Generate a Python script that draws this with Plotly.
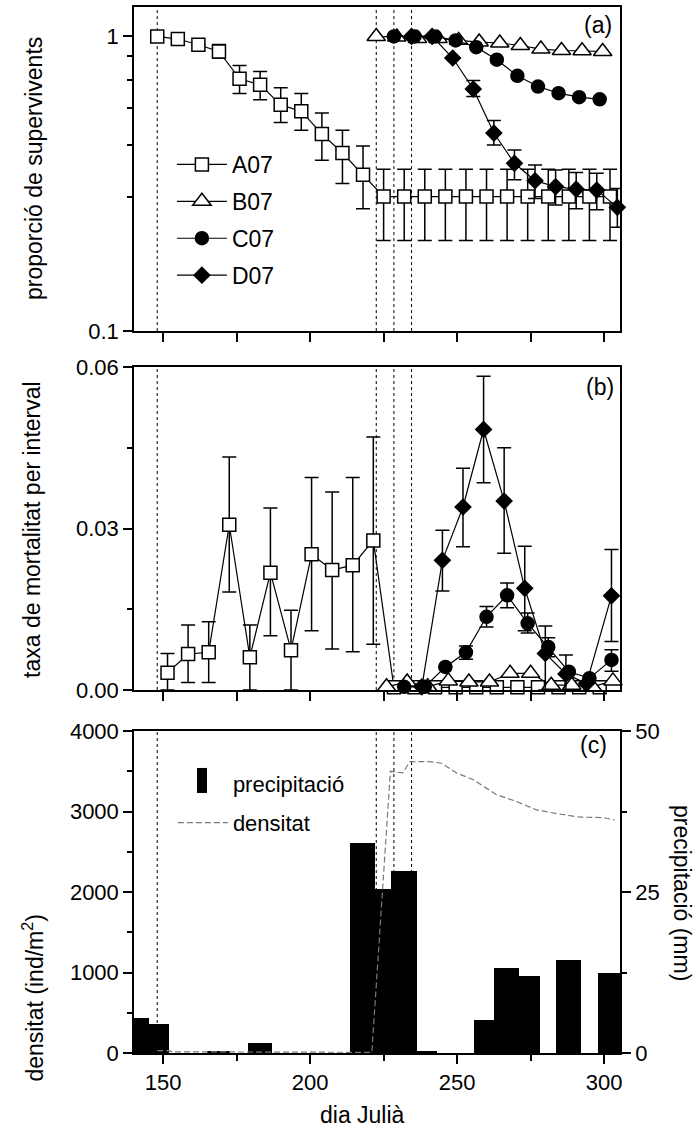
import plotly.graph_objects as go

# ---------------- data ----------------
event_days = [148, 222.5, 228.5, 234.5]

# (a) proportion of survivors
a07_day = [148, 155, 162, 169, 176, 183, 190, 197, 204, 211, 218, 225, 232, 239, 246, 253,
           260, 267, 274, 281, 288, 295, 302]
a07_surv = [1.0, 0.98, 0.937, 0.889, 0.718, 0.685, 0.586, 0.557, 0.467, 0.402, 0.339,
            0.286, 0.286, 0.286, 0.286, 0.286, 0.286, 0.286, 0.286, 0.286, 0.286, 0.286, 0.286]
a07_hi = [None, None, None, 0.94, 0.797, 0.76, 0.67, 0.64, 0.55, 0.48, 0.425,
          0.354, 0.354, 0.354, 0.354, 0.354, 0.354, 0.354, 0.354, 0.354, 0.354, 0.354, 0.354]
a07_lo = [None, None, None, 0.845, 0.64, 0.61, 0.51, 0.48, 0.38, 0.317, 0.26,
          0.203, 0.203, 0.203, 0.203, 0.203, 0.203, 0.203, 0.203, 0.203, 0.203, 0.203, 0.203]

b07_day = [222.5, 229.5, 236.5, 243.5, 250.5, 257.5, 264.5, 271.5, 278.5, 285.5, 292.5, 299.5]
b07_surv = [1.0, 0.995, 0.985, 0.985, 0.97, 0.957, 0.95, 0.932, 0.906, 0.896, 0.894, 0.889]

c07_day = [228.5, 235.5, 242.5, 249.5, 256.5, 263.5, 270.5, 277.5, 284.5, 291.5, 298.5]
c07_surv = [1.0, 1.0, 1.0, 0.969, 0.92, 0.834, 0.735, 0.676, 0.642, 0.622, 0.612]

d07_day = [234.5, 241.5, 248.5, 255.5, 262.5, 269.5, 276.5, 283.5, 290.5, 297.5, 304.5]
d07_surv = [1.0, 1.0, 0.845, 0.663, 0.47, 0.371, 0.324, 0.309, 0.303, 0.301, 0.263]
d07_hi = [None, None, None, 0.709, 0.518, 0.412, 0.366, 0.352, 0.345, 0.343, 0.305]
d07_lo = [None, None, None, 0.625, 0.428, 0.326, 0.282, 0.268, 0.26, 0.258, 0.225]

# (b) mortality rate per interval
a07_m_day = [151.5, 158.5, 165.5, 172.5, 179.5, 186.5, 193.5, 200.5, 207.5, 214.5, 221.5,
             228.5, 235.5, 242.5, 249.5, 256.5, 263.5, 270.5, 277.5, 284.5, 291.5, 298.5]
a07_m = [0.0032, 0.0067, 0.0070, 0.0307, 0.0061, 0.0218, 0.0074, 0.0252, 0.0223, 0.0232, 0.0278,
         0.0005, 0.0005, 0.0005, 0.0005, 0.0005, 0.0005, 0.0005, 0.0005, 0.0005, 0.0005, 0.0005]
a07_m_hi = [0.0068, 0.0121, 0.0127, 0.0433, 0.0121, 0.0338, 0.0148, 0.0395, 0.0368, 0.0395, 0.047,
            None, None, None, None, None, None, None, None, None, None, None]
a07_m_lo = [0.0, 0.0014, 0.0014, 0.0182, 0.0, 0.0101, 0.0, 0.011, 0.0076, 0.0071, 0.0085,
            None, None, None, None, None, None, None, None, None, None, None]

b07_m_day = [226, 233, 240, 247, 254, 261, 268, 275, 282, 289, 296, 303]
b07_m = [0.0006, 0.0015, 0.0006, 0.0017, 0.0015, 0.0015, 0.0031, 0.0031, 0.0009, 0.0009, 0.0006, 0.0017]

c07_m_day = [232, 239, 246, 253, 260, 267, 274, 281, 288, 295, 302.5]
c07_m = [0.0006, 0.0006, 0.0043, 0.007, 0.0136, 0.0176, 0.0124, 0.008, 0.0034, 0.0022, 0.0056]
c07_m_hi = [None, None, None, 0.0082, 0.0155, 0.0199, 0.0143, 0.0097, None, None, 0.0075]
c07_m_lo = [None, None, None, 0.0057, 0.0117, 0.0153, 0.0106, 0.0062, None, None, 0.0035]

d07_m_day = [238, 245, 252, 259, 266, 273, 280, 287, 294, 302.5]
d07_m = [0.0006, 0.0241, 0.034, 0.0484, 0.0351, 0.0189, 0.0068, 0.0030, 0.0012, 0.0175]
d07_m_hi = [None, 0.0297, 0.0412, 0.0583, 0.045, 0.0267, 0.0119, 0.0065, None, 0.0261]
d07_m_lo = [None, 0.0184, 0.0266, 0.0385, 0.0254, 0.011, 0.0, 0.0, None, 0.009]

# (c) precipitation (mm) per sampling interval, density (ind/m2)
precip_from = [138.0, 145.2, 164.8, 178.8, 213.6, 222.0, 227.6, 236.2, 255.8, 262.7, 271.2, 283.8, 297.8]
precip_to = [145.2, 152.0, 172.7, 187.2, 222.0, 227.6, 236.2, 243.0, 262.7, 271.2, 278.3, 292.3, 306.0]
precip_mm = [5.5, 4.5, 0.2, 1.55, 32.6, 25.4, 28.3, 0.15, 5.06, 13.2, 12.0, 14.5, 12.4]

dens_day = [148, 152, 153, 190, 195, 221, 227.3, 231.6, 233.9, 240.7, 244.7, 249.8, 255.5,
            263.4, 270.2, 277, 283.8, 291.8, 299.7, 303.6]
dens_val = [30, 30, 15, 12, 8, 8, 3500, 3480, 3620, 3620, 3600, 3480, 3395,
            3210, 3125, 3020, 2975, 2930, 2925, 2895]

# ---------------- helpers ----------------
def err(vals, hi, lo):
    plus = [None if h is None else h - v for v, h in zip(vals, hi)]
    minus = [None if l is None else v - l for v, l in zip(vals, lo)]
    return plus, minus

FONT = "Liberation Sans, Arial, sans-serif"
FS = 22
FT = 23
LINE = dict(color="black", width=1.2)
EB = dict(type="data", symmetric=False, color="black", thickness=1.5, width=7)

def mk(symbol, fill, size):
    return dict(symbol=symbol, size=size, color=fill, line=dict(color="black", width=1.5))

SQ = mk("square", "white", 13)
TR = mk("triangle-up", "white", 16)
CI = mk("circle", "black", 13)
DI = mk("diamond", "black", 12)

fig = go.Figure()

# ---- panel (a)
p, m = err(a07_surv, a07_hi, a07_lo)
fig.add_trace(go.Scatter(x=a07_day, y=a07_surv, mode="lines+markers", name="A07", line=LINE, marker=SQ,
                         error_y=dict(EB, array=p, arrayminus=m), xaxis="x", yaxis="y",
                         legend="legend", legendgroup="a", cliponaxis=False))
fig.add_trace(go.Scatter(x=b07_day, y=b07_surv, mode="lines+markers", name="B07", line=LINE, marker=TR,
                         xaxis="x", yaxis="y", legend="legend", legendgroup="b", cliponaxis=False))
fig.add_trace(go.Scatter(x=c07_day, y=c07_surv, mode="lines+markers", name="C07", line=LINE, marker=CI,
                         xaxis="x", yaxis="y", legend="legend", legendgroup="c", cliponaxis=False))
p, m = err(d07_surv, d07_hi, d07_lo)
fig.add_trace(go.Scatter(x=d07_day, y=d07_surv, mode="lines+markers", name="D07", line=LINE, marker=DI,
                         error_y=dict(EB, array=p, arrayminus=m), xaxis="x", yaxis="y",
                         legend="legend", legendgroup="d", cliponaxis=False))

# ---- panel (b)
p, m = err(a07_m, a07_m_hi, a07_m_lo)
fig.add_trace(go.Scatter(x=a07_m_day, y=a07_m, mode="lines+markers", line=LINE, marker=SQ, showlegend=False,
                         error_y=dict(EB, array=p, arrayminus=m), xaxis="x2", yaxis="y2", cliponaxis=False))
fig.add_trace(go.Scatter(x=b07_m_day, y=b07_m, mode="lines+markers", line=LINE, marker=TR, showlegend=False,
                         xaxis="x2", yaxis="y2", cliponaxis=False))
p, m = err(c07_m, c07_m_hi, c07_m_lo)
fig.add_trace(go.Scatter(x=c07_m_day, y=c07_m, mode="lines+markers", line=LINE, marker=CI, showlegend=False,
                         error_y=dict(EB, array=p, arrayminus=m), xaxis="x2", yaxis="y2", cliponaxis=False))
p, m = err(d07_m, d07_m_hi, d07_m_lo)
fig.add_trace(go.Scatter(x=d07_m_day, y=d07_m, mode="lines+markers", line=LINE, marker=DI, showlegend=False,
                         error_y=dict(EB, array=p, arrayminus=m), xaxis="x2", yaxis="y2", cliponaxis=False))

# ---- panel (c)
centers = [(a + b) / 2 for a, b in zip(precip_from, precip_to)]
widths = [b - a for a, b in zip(precip_from, precip_to)]
fig.add_trace(go.Bar(x=centers, y=precip_mm, width=widths, name="precipitació", showlegend=False,
                     marker=dict(color="black", line=dict(width=0)),
                     xaxis="x3", yaxis="y3"))
# legend-only entry (its glyph is drawn as a tall black box below)
fig.add_trace(go.Scatter(x=[None], y=[None], mode="markers", name="precipitació",
                         marker=dict(symbol="square", size=2, color="rgba(0,0,0,0)",
                                     line=dict(width=0)),
                         xaxis="x3", yaxis="y3", legend="legend2", legendgroup="p"))
fig.add_trace(go.Scatter(x=dens_day, y=dens_val, mode="lines", name="densitat",
                         line=dict(color="#7a7a7a", width=1.2, dash="6px,3px"),
                         xaxis="x3", yaxis="y4", legend="legend2", legendgroup="q"))

# ---------------- layout ----------------
dom_a = [0.6902, 1.0]
dom_b = [0.347, 0.6558]
dom_c = [0.0, 0.3078]
xr = [140.1, 305.4]

axis_common = dict(showline=True, linecolor="black", linewidth=1.5, mirror=True, ticks="outside",
                   ticklen=9, tickwidth=1.5, tickcolor="black", showgrid=False, zeroline=False,
                   automargin=False,
                   tickfont=dict(family=FONT, size=FS, color="black"))

def xax(anchor, labels):
    d = dict(axis_common, anchor=anchor, range=xr, domain=[0, 1])
    if labels:
        d.update(tickmode="array", tickvals=[150, 200, 250, 300], showticklabels=True,
                 minor=dict(tickmode="array", tickvals=[175, 225, 275], ticks="outside", ticklen=6,
                            tickwidth=1.5, tickcolor="black"))
    else:
        d.update(tickmode="array", tickvals=[150, 175, 200, 225, 250, 275, 300], showticklabels=False)
    return d

minor_common = dict(ticks="outside", ticklen=5, tickwidth=1.5, tickcolor="black")

layout = dict(
    width=697, height=1129,
    margin=dict(l=134, r=77, t=7, b=76, pad=0, autoexpand=False),
    paper_bgcolor="white", plot_bgcolor="white",
    font=dict(family=FONT, size=FS, color="black"),
    xaxis=xax("y", False),
    xaxis2=xax("y2", False),
    xaxis3=xax("y3", True),
    yaxis=dict(axis_common, anchor="x", domain=dom_a, type="log", range=[-1, 0.1],
               tickmode="array", tickvals=[0.1, 1], ticktext=["0.1", "1"],
               minor=dict(minor_common, tickmode="array", tickvals=[2 / 7, 3 / 7, 4 / 7, 5 / 7, 6 / 7])),
    yaxis2=dict(axis_common, anchor="x2", domain=dom_b, range=[0, 0.06],
                tickmode="array", tickvals=[0, 0.03, 0.06], ticktext=["0.00", "0.03", "0.06"],
                minor=dict(minor_common, tickmode="array", tickvals=[0.015, 0.045])),
    yaxis3=dict(axis_common, anchor="x3", domain=dom_c, range=[0, 50], side="right", mirror=False,
                tickmode="array", tickvals=[0, 25, 50],
                minor=dict(minor_common, tickmode="array", tickvals=[12.5, 37.5])),
    yaxis4=dict(axis_common, anchor="x3", overlaying="y3", side="left", range=[0, 4000], mirror=False,
                tickmode="array", tickvals=[0, 1000, 2000, 3000, 4000],
                minor=dict(minor_common, tickmode="array", tickvals=[500, 1500, 2500, 3500])),
    showlegend=True,
    legend=dict(x=0.078, y=0.870, xanchor="left", yanchor="top", bgcolor="rgba(0,0,0,0)",
                font=dict(family=FONT, size=FT, color="black"), traceorder="grouped",
                tracegroupgap=4, itemwidth=50),
    legend2=dict(x=0.08, y=0.278, xanchor="left", yanchor="top", bgcolor="rgba(0,0,0,0)",
                 font=dict(family=FONT, size=FS, color="black"), tracegroupgap=8, itemwidth=50,
                 traceorder="grouped"),
    bargap=0,
)
fig.update_layout(**layout)

# dotted event lines in each panel
shapes = []
for xa, ya in [("x", "y domain"), ("x2", "y2 domain"), ("x3", "y3 domain")]:
    for d in event_days:
        shapes.append(dict(type="line", xref=xa, yref=ya, x0=d, x1=d, y0=0, y1=1, layer="below",
                           line=dict(color="black", width=1, dash="dot")))
# legend glyph for precipitation: tall black box next to the legend text
shapes.append(dict(type="rect", xref="paper", yref="paper", x0=0.1296, x1=0.1502, y0=0.2486, y1=0.2725,
                   fillcolor="black", line=dict(width=0), layer="above"))
fig.update_layout(shapes=shapes)

ann = [
    dict(text="proporció de supervivents", x=-0.2058, y=0.846, textangle=-90, size=FT),
    dict(text="taxa de mortalitat per interval", x=-0.2099, y=0.501, textangle=-90, size=FT),
    dict(text="densitat (ind/m<sup>2</sup>)", x=-0.2078, y=0.052, textangle=-90, size=FT),
    dict(text="precipitació (mm)", x=1.1276, y=0.153, textangle=90, size=FT),
    dict(text="dia Julià", x=0.47, y=-0.0593, textangle=0, size=FT),
    dict(text="(a)", x=0.9547, y=0.9828, textangle=0, size=FT),
    dict(text="(b)", x=0.9588, y=0.6367, textangle=0, size=FT),
    dict(text="(c)", x=0.9465, y=0.2945, textangle=0, size=FT),
]
for a in ann:
    s = a.pop("size")
    a.update(xref="paper", yref="paper", xanchor="center", yanchor="middle", showarrow=False,
             font=dict(family=FONT, size=s, color="black"))
fig.update_layout(annotations=ann)

fig.write_html("out.html")
